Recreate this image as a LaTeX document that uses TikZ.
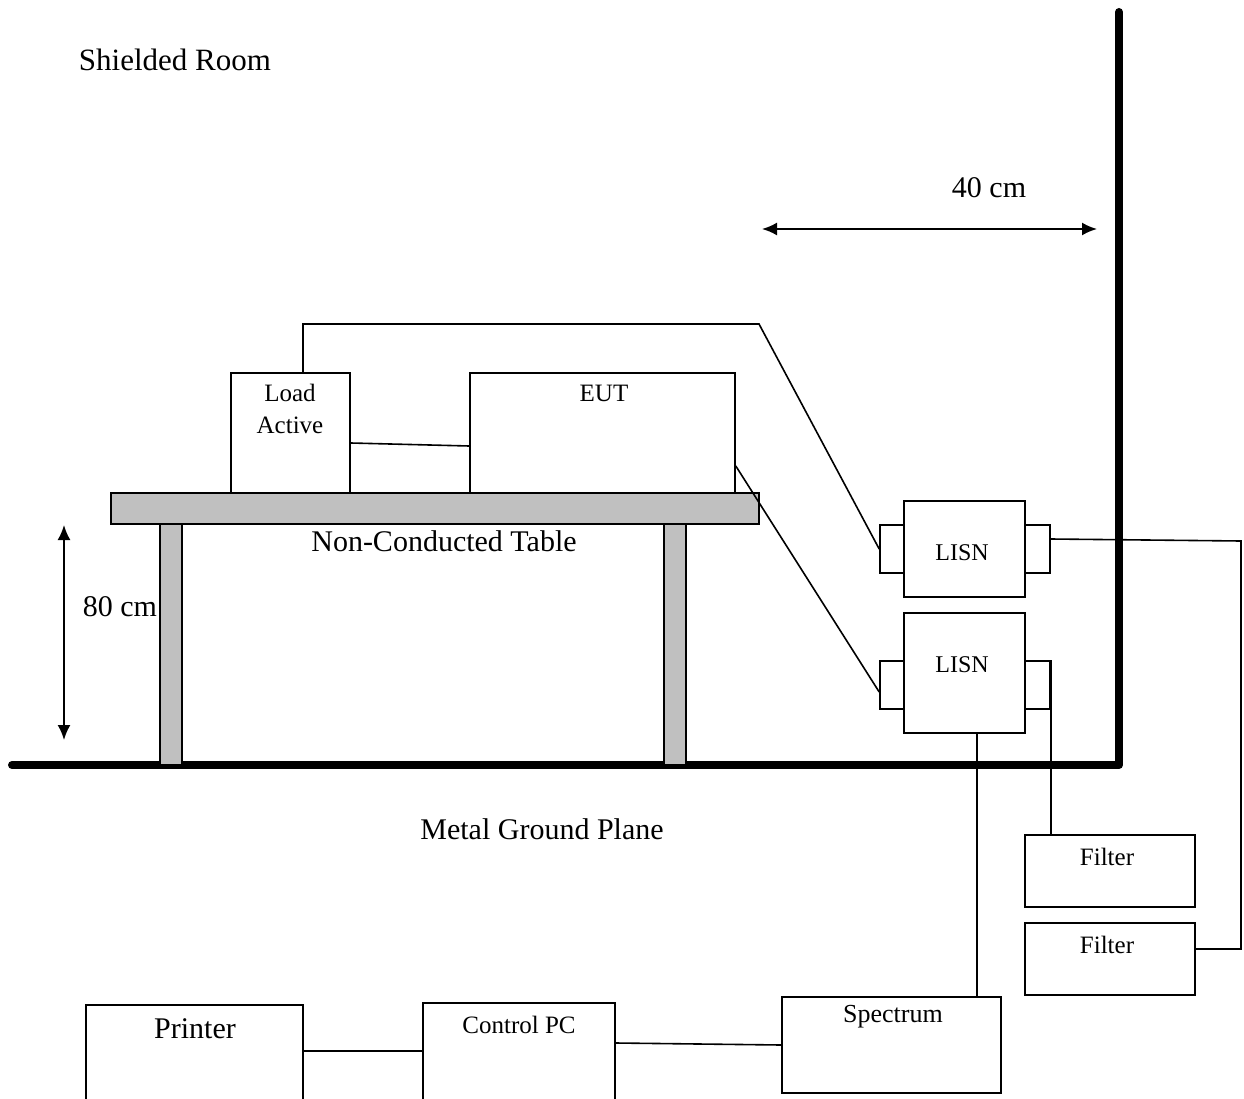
\documentclass[tikz,border=0pt]{standalone}
\usepackage{fontspec}
\setmainfont{Liberation Serif}
\usepackage{tikz}
\usetikzlibrary{arrows.meta}

\definecolor{tablegray}{RGB}{192,192,192}

\tikzset{
  box/.style={draw, line width=1.6pt, rectangle, inner sep=0pt, fill=white},
  wood/.style={draw, line width=1.6pt, rectangle, inner sep=0pt, fill=tablegray},
  wire/.style={line width=1.6pt},
  dim/.style={line width=2pt, {Latex[length=15pt,width=13pt]}-{Latex[length=15pt,width=13pt]}},
  bigtxt/.style={inner sep=0pt, font=\fontsize{30}{34}\selectfont},
  smalltxt/.style={inner sep=0pt, font=\fontsize{25}{32}\selectfont, align=center}
}

\begin{document}
\begin{tikzpicture}[x=1pt,y=1pt,yscale=-1,xscale=1]
\useasboundingbox (0,0) rectangle (1244,1099);
\clip (0,0) rectangle (1244,1099);

%Wall and Ground Plane
\coordinate (floorL) at (12,765);
\coordinate (corner) at (1119,765);
\coordinate (wallT) at (1119,12);
\draw [line width=8pt, line cap=round, line join=round] (floorL) -- (corner) -- (wallT);

%Table
\node [wood, minimum width=648pt, minimum height=31pt] (top) at (435,508.5) {};
\node [wood, minimum width=22pt, minimum height=241pt] (legL) at (171,644.5) {};
\node [wood, minimum width=22pt, minimum height=241pt] (legR) at (675,644.5) {};

%Boxes on the table
\node [box, minimum width=119pt, minimum height=120pt] (load) at (290.5,433) {};
\node [box, minimum width=265pt, minimum height=120pt] (eut) at (602.5,433) {};

%LISN upper
\node [box, minimum width=121pt, minimum height=96pt] (lisnA) at (964.5,549) {};
\node [box, minimum width=24pt, minimum height=48pt] (lisnAl) at (892,549) {};
\node [box, minimum width=25pt, minimum height=48pt] (lisnAr) at (1037.5,549) {};
%LISN lower
\node [box, minimum width=121pt, minimum height=120pt] (lisnB) at (964.5,673) {};
\node [box, minimum width=24pt, minimum height=48pt] (lisnBl) at (892,685) {};
\node [box, minimum width=25pt, minimum height=48pt] (lisnBr) at (1037.5,685) {};

%Filters
\node [box, minimum width=170pt, minimum height=72pt] (filterA) at (1110,871) {};
\node [box, minimum width=170pt, minimum height=72pt] (filterB) at (1110,959) {};

%Bottom row
\node [box, minimum width=219pt, minimum height=96pt] (spectrum) at (891.5,1045) {};
\node [box, minimum width=192pt, minimum height=117pt] (pc) at (519,1061.5) {};
\node [box, minimum width=217pt, minimum height=115pt] (printer) at (194.5,1062.5) {};

%Straight Lines
\draw [wire] (load.east |- 0,443) -- (eut.west |- 0,446);
\draw [wire] (303,0 |- load.north) -- (303,324) -- (759,324) -- (lisnAl.west);
\draw [wire] (eut.east |- 0,466) -- (lisnBl.west |- 0,692);
\draw [wire] (lisnAr.east |- 0,539) -- (1241,541) -- (1241,949) -- (filterB.east |- 0,949);
\draw [wire] (lisnBr.north east) -- (lisnBr.north east |- filterA.north);
\draw [wire] (977,0 |- lisnB.south) -- (977,0 |- spectrum.north);
\draw [wire] (pc.east |- 0,1043) -- (spectrum.west |- 0,1045);
\draw [wire] (printer.east |- 0,1051) -- (pc.west |- 0,1051);

%Dimension arrows
\coordinate (h1) at (64,525);
\coordinate (h2) at (64,740);
\draw [dim] (h1) -- (h2);
\coordinate (w1) at (762,229);
\coordinate (w2) at (1097,229);
\draw [dim] (w1) -- (w2);

% Text Node
\node [bigtxt, font=\fontsize{31}{34}\selectfont] (room) at (175,60) {Shielded Room};
% Text Node
\node [bigtxt] (w-txt) at (989,188) {40 cm};
% Text Node
\node [bigtxt] (h-txt) at (120,607) {80 cm};
% Text Node
\node [bigtxt] (table-txt) at (444,541) {Non-Conducted Table};
% Text Node
\node [bigtxt] (plane-txt) at (542,829) {Metal Ground Plane};
% Text Node
\node [bigtxt] (printer-txt) at (195,1029) {Printer};
% Text Node
\node [smalltxt] (load-txt) at (290,409) {Load\\Active};
% Text Node
\node [smalltxt] (eut-txt) at (604,393) {EUT};
% Text Node
\node [smalltxt, font=\fontsize{24}{30}\selectfont] (lisnA-txt) at (962,553) {LISN};
% Text Node
\node [smalltxt, font=\fontsize{24}{30}\selectfont] (lisnB-txt) at (962,665) {LISN};
% Text Node
\node [smalltxt] (filterA-txt) at (1107,857) {Filter};
% Text Node
\node [smalltxt] (filterB-txt) at (1107,945) {Filter};
% Text Node
\node [smalltxt, font=\fontsize{26}{32}\selectfont] (spectrum-txt) at (893,1017) {Spectrum};
% Text Node
\node [smalltxt] (pc-txt) at (519,1025) {Control PC};

\end{tikzpicture}
\end{document}
